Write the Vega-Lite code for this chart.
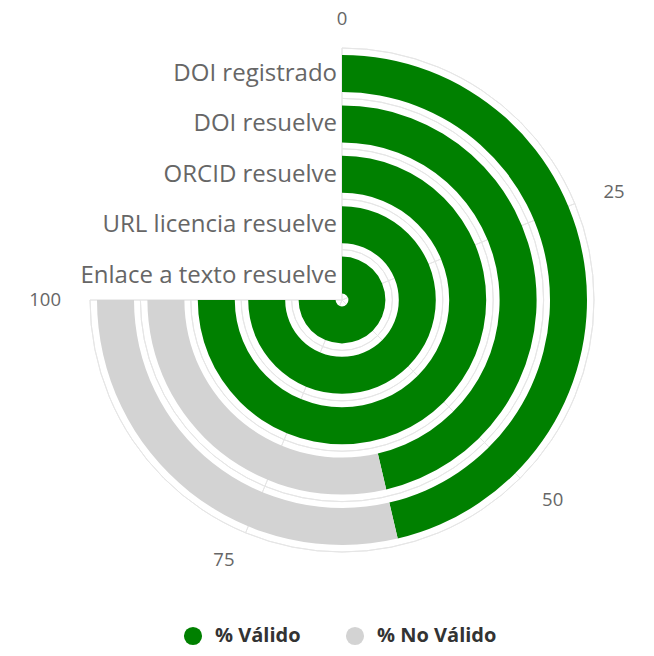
{
  "$schema": "https://vega.github.io/schema/vega-lite/v6.json",
  "autosize": "none",
  "width": 624,
  "height": 600,
  "padding": {"left": 30, "top": 0, "right": 0, "bottom": 56},
  "background": "white",
  "config": {"view": {"stroke": null}},
  "datasets": {
    "barras": [
      {"categoria": "DOI registrado", "orden": 5, "serie": "% Válido", "valor": 61.8},
      {"categoria": "DOI registrado", "orden": 5, "serie": "% No Válido", "valor": 38.2},
      {"categoria": "DOI resuelve", "orden": 4, "serie": "% Válido", "valor": 61.8},
      {"categoria": "DOI resuelve", "orden": 4, "serie": "% No Válido", "valor": 38.2},
      {"categoria": "ORCID resuelve", "orden": 3, "serie": "% Válido", "valor": 100},
      {"categoria": "ORCID resuelve", "orden": 3, "serie": "% No Válido", "valor": 0},
      {"categoria": "URL licencia resuelve", "orden": 2, "serie": "% Válido", "valor": 100},
      {"categoria": "URL licencia resuelve", "orden": 2, "serie": "% No Válido", "valor": 0},
      {"categoria": "Enlace a texto resuelve", "orden": 1, "serie": "% Válido", "valor": 100},
      {"categoria": "Enlace a texto resuelve", "orden": 1, "serie": "% No Válido", "valor": 0}
    ],
    "ticks": [
      {"v": 0, "t": "0"},
      {"v": 25, "t": "25"},
      {"v": 50, "t": "50"},
      {"v": 75, "t": "75"},
      {"v": 100, "t": "100"}
    ],
    "anillos": [{"k": 1}, {"k": 2}, {"k": 3}, {"k": 4}, {"k": 5}]
  },
  "layer": [
    {
      "data": {"name": "ticks"},
      "mark": {"type": "arc", "filled": false, "stroke": "#e6e6e6", "strokeWidth": 1},
      "encoding": {
        "theta": {"field": "v", "type": "quantitative", "scale": {"type": "linear", "domain": [0, 100], "range": [0, 4.71238898], "zero": true}},
        "theta2": {"field": "v"},
        "radius": {"datum": 5, "type": "quantitative", "scale": {"type": "linear", "domain": [0, 5], "range": [0, 252], "zero": true}},
        "radius2": {"datum": 0}
      }
    },
    {
      "data": {"name": "anillos"},
      "mark": {"type": "arc", "filled": false, "stroke": "#e6e6e6", "strokeWidth": 1},
      "encoding": {
        "theta": {"datum": 0, "type": "quantitative"},
        "theta2": {"datum": 100},
        "radius": {"field": "k", "type": "quantitative"},
        "radius2": {"field": "k"}
      }
    },
    {
      "data": {"name": "barras"},
      "transform": [
        {"stack": "valor", "groupby": ["categoria"], "sort": [{"field": "serie", "order": "descending"}], "as": ["v0", "v1"]}
      ],
      "mark": {"type": "arc", "radiusOffset": -7, "radius2Offset": -44},
      "encoding": {
        "theta": {"field": "v0", "type": "quantitative"},
        "theta2": {"field": "v1"},
        "radius": {"field": "orden", "type": "quantitative"},
        "radius2": {"field": "orden"},
        "color": {
          "field": "serie", "type": "nominal",
          "scale": {"domain": ["% Válido", "% No Válido"], "range": ["#008000", "#d3d3d3"]},
          "legend": {
            "title": null, "orient": "none", "legendX": 153, "legendY": 626,
            "direction": "horizontal", "symbolType": "circle", "symbolSize": 330,
            "symbolStrokeWidth": 0, "labelFont": "Open Sans", "labelFontWeight": "bold",
            "labelFontSize": 20, "labelColor": "#333333", "columnPadding": 44, "labelOffset": 12
          }
        }
      }
    },
    {
      "data": {"name": "barras"},
      "transform": [{"filter": "datum.serie === '% Válido'"}],
      "mark": {"type": "text", "align": "right", "baseline": "alphabetic", "dx": -5, "dy": 33, "theta": 0, "font": "Open Sans", "fontSize": 24, "color": "#666666"},
      "encoding": {
        "radius": {"field": "orden", "type": "quantitative"},
        "text": {"field": "categoria"}
      }
    },
    {
      "data": {"name": "ticks"},
      "transform": [{"filter": "datum.v === 0"}],
      "mark": {"type": "text", "align": "center", "baseline": "middle", "radius": 281, "font": "Open Sans", "fontSize": 18.5, "color": "#666666"},
      "encoding": {
        "theta": {"field": "v", "type": "quantitative"},
        "text": {"field": "t"}
      }
    },
    {
      "data": {"name": "ticks"},
      "transform": [{"filter": "datum.v === 25 || datum.v === 50"}],
      "mark": {"type": "text", "align": "left", "baseline": "middle", "radius": 283, "font": "Open Sans", "fontSize": 18.5, "color": "#666666"},
      "encoding": {
        "theta": {"field": "v", "type": "quantitative"},
        "text": {"field": "t"}
      }
    },
    {
      "data": {"name": "ticks"},
      "transform": [{"filter": "datum.v === 75 || datum.v === 100"}],
      "mark": {"type": "text", "align": "right", "baseline": "middle", "radius": 281, "font": "Open Sans", "fontSize": 18.5, "color": "#666666"},
      "encoding": {
        "theta": {"field": "v", "type": "quantitative"},
        "text": {"field": "t"}
      }
    }
  ]
}
